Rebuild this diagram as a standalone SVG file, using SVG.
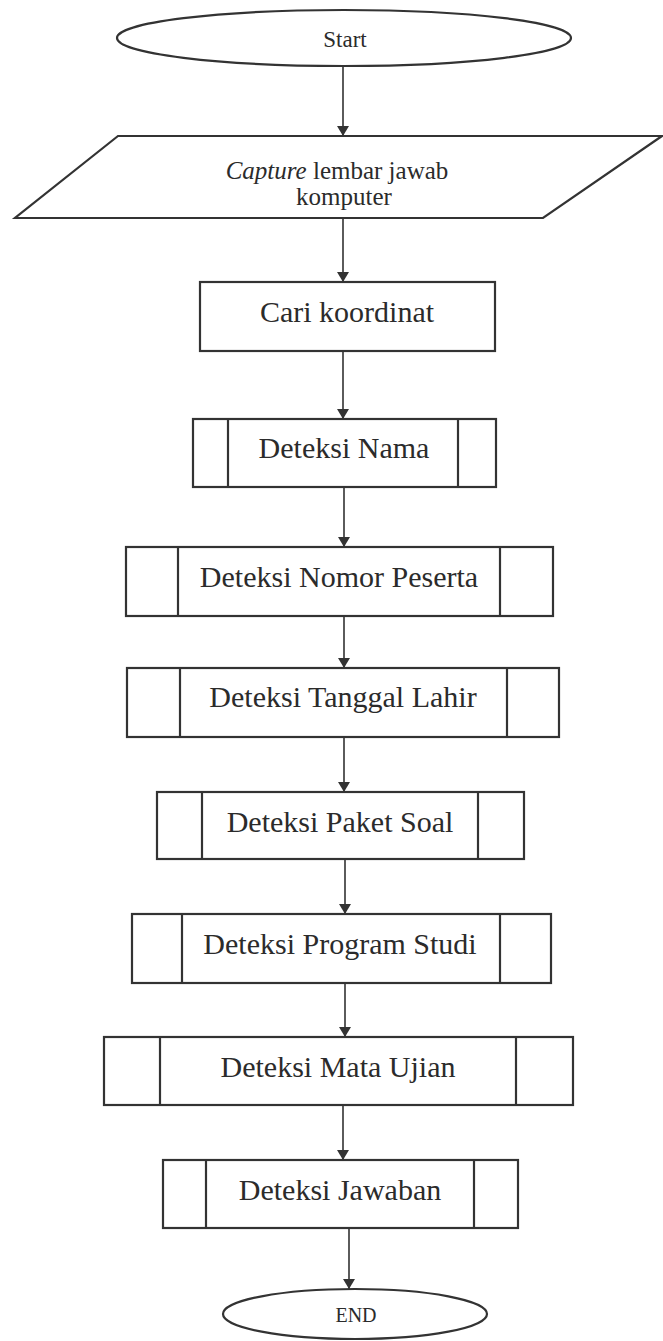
<svg xmlns="http://www.w3.org/2000/svg" width="663" height="1341" viewBox="0 0 663 1341">
  <style>
    .shape { fill: #ffffff; stroke: #333333; stroke-width: 2.2; }
    .bar { fill: none; stroke: #333333; stroke-width: 2.2; }
    .edge { fill: none; stroke: #333333; stroke-width: 1.6; marker-end: url(#arrow); }
    .label { font-family: "Liberation Serif", "Times New Roman", serif; fill: #2b2b2b; text-anchor: middle; }
    .big { font-size: 30px; }
    .mid { font-size: 25px; }
    .start { font-size: 23px; }
    .small { font-size: 20px; }
  </style>
  <defs>
    <marker id="arrow" viewBox="0 0 10 12" refX="10" refY="6" markerWidth="10" markerHeight="12" markerUnits="userSpaceOnUse" orient="auto">
      <path d="M0,0 L10,6 L0,12 Z" fill="#333333"/>
    </marker>
  </defs>
  <rect width="663" height="1341" fill="#ffffff"/>

  <!-- connectors -->
  <g id="connectors">
    <line class="edge" x1="343" y1="67" x2="343" y2="136"/>
    <line class="edge" x1="343" y1="218" x2="343" y2="282"/>
    <line class="edge" x1="343" y1="351" x2="343" y2="419"/>
    <line class="edge" x1="344" y1="487" x2="344" y2="547"/>
    <line class="edge" x1="344" y1="616" x2="344" y2="668"/>
    <line class="edge" x1="344" y1="737" x2="344" y2="792"/>
    <line class="edge" x1="345" y1="859" x2="345" y2="914"/>
    <line class="edge" x1="345" y1="983" x2="345" y2="1037"/>
    <line class="edge" x1="343" y1="1105" x2="343" y2="1160"/>
    <line class="edge" x1="349" y1="1228" x2="349" y2="1289"/>
  </g>

  <!-- terminator: start -->
  <g id="start">
    <ellipse class="shape" cx="344" cy="38" rx="227" ry="28"/>
    <text class="label start" x="345" y="47">Start</text>
  </g>

  <!-- input: capture -->
  <g id="capture">
    <polygon class="shape" points="118,136 662,136 543,218 15,218"/>
    <text class="label mid" x="337" y="179"><tspan font-style="italic">Capture</tspan> lembar  jawab</text>
    <text class="label mid" x="344" y="205">komputer</text>
  </g>

  <!-- process -->
  <g id="cari-koordinat">
    <rect class="shape" x="200" y="282" width="295" height="69"/>
    <text class="label big" x="347" y="322">Cari koordinat</text>
  </g>

  <!-- predefined processes -->
  <g id="deteksi-nama">
    <rect class="shape" x="193" y="419" width="303" height="68"/>
    <line class="bar" x1="228" y1="419" x2="228" y2="487"/>
    <line class="bar" x1="458" y1="419" x2="458" y2="487"/>
    <text class="label big" x="344" y="458">Deteksi Nama</text>
  </g>

  <g id="deteksi-nomor-peserta">
    <rect class="shape" x="126" y="547" width="427" height="69"/>
    <line class="bar" x1="178" y1="547" x2="178" y2="616"/>
    <line class="bar" x1="500" y1="547" x2="500" y2="616"/>
    <text class="label big" x="339" y="587">Deteksi Nomor Peserta</text>
  </g>

  <g id="deteksi-tanggal-lahir">
    <rect class="shape" x="127" y="668" width="432" height="69"/>
    <line class="bar" x1="180" y1="668" x2="180" y2="737"/>
    <line class="bar" x1="507" y1="668" x2="507" y2="737"/>
    <text class="label big" x="343" y="707">Deteksi Tanggal Lahir</text>
  </g>

  <g id="deteksi-paket-soal">
    <rect class="shape" x="157" y="792" width="367" height="67"/>
    <line class="bar" x1="202" y1="792" x2="202" y2="859"/>
    <line class="bar" x1="478" y1="792" x2="478" y2="859"/>
    <text class="label big" x="340" y="832">Deteksi Paket Soal</text>
  </g>

  <g id="deteksi-program-studi">
    <rect class="shape" x="132" y="914" width="419" height="69"/>
    <line class="bar" x1="182" y1="914" x2="182" y2="983"/>
    <line class="bar" x1="500" y1="914" x2="500" y2="983"/>
    <text class="label big" x="340" y="954">Deteksi Program Studi</text>
  </g>

  <g id="deteksi-mata-ujian">
    <rect class="shape" x="104" y="1037" width="469" height="68"/>
    <line class="bar" x1="160" y1="1037" x2="160" y2="1105"/>
    <line class="bar" x1="516" y1="1037" x2="516" y2="1105"/>
    <text class="label big" x="338" y="1077">Deteksi Mata Ujian</text>
  </g>

  <g id="deteksi-jawaban">
    <rect class="shape" x="163" y="1160" width="355" height="68"/>
    <line class="bar" x1="206" y1="1160" x2="206" y2="1228"/>
    <line class="bar" x1="474" y1="1160" x2="474" y2="1228"/>
    <text class="label big" x="340" y="1200">Deteksi Jawaban</text>
  </g>

  <!-- terminator: end -->
  <g id="end">
    <ellipse class="shape" cx="355" cy="1314" rx="132" ry="25"/>
    <text class="label small" x="356" y="1322">END</text>
  </g>
</svg>
